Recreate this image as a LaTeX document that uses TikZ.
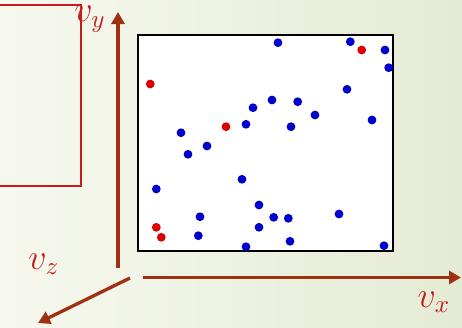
\documentclass[tikz,border=0pt]{standalone}
\usetikzlibrary{arrows.meta}
\definecolor{axisred}{RGB}{160,48,18}
\definecolor{labred}{RGB}{200,28,28}
\definecolor{dotblue}{RGB}{0,0,205}
\definecolor{dotred}{RGB}{220,0,0}

\begin{document}
\begin{tikzpicture}[x=1pt, y=-1pt,
        axis/.style={draw=axisred, line width=3.3pt, -{Triangle[width=13pt, length=12pt]}},
        lab/.style={text=labred, inner sep=0pt, font=\Large, scale=2.5},
        dotb/.style={fill=dotblue},
        dotr/.style={fill=dotred}]

        % Hintergrund
        \shade[left color={rgb,255:red,246;green,248;blue,238}, right color={rgb,255:red,228;green,235;blue,212}]
            (0,0) rectangle (462,327);
        \useasboundingbox (0,0) rectangle (462,327);

        % Rahmen links
        \draw[labred, line width=2pt] (-5,5) -- (81,5) -- (81,186) -- (-5,186);

        % Achsen
        \coordinate (ybase) at (118,268);
        \coordinate (ytip) at (118,12);
        \coordinate (xbase) at (143,277.5);
        \coordinate (xtip) at (461,277.5);
        \coordinate (zbase) at (130,278);
        \coordinate (ztip) at (38,323);
        \draw[axis] (ybase) -- (ytip);
        \draw[axis] (xbase) -- (xtip);
        \draw[axis] (zbase) -- (ztip);

        % Beschriftungen
        \node[lab] (vy) at (90,19) {$v_y$};
        \node[lab] (vz) at (44,264) {$v_z$};
        \node[lab] (vx) at (434,302) {$v_x$};

        % Kasten
        \draw[line width=2.3pt, fill=white] (138,35) rectangle (393,251);

        % Teilchen
        \foreach \px/\py in {278/42.7, 350.3/41.7, 385/50, 388.7/67.7, 347/89.3,
                272/100, 297.7/101.7, 253/107.7, 315/115, 372/120, 246/124.3,
                291/126.7, 181/132.7, 207/146, 188/154.3, 242/179.3, 156.3/189,
                259/205, 200/216.7, 273.7/217.3, 288.3/218.3, 339/214, 259/227.3,
                198.3/235.7, 290/241.3, 246/246.7, 384/245.7}
            \fill[dotb] (\px,\py) circle (4.4);
        \foreach \px/\py in {150.3/84, 361.7/50, 226/126.7, 156.3/227.3, 161.3/237.3}
            \fill[dotr] (\px,\py) circle (4.4);
\end{tikzpicture}
\end{document}
